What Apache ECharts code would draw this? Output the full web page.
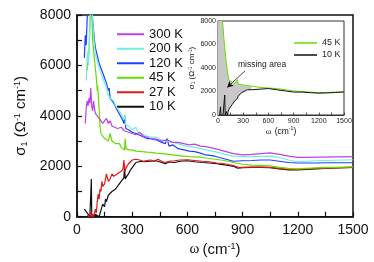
<!DOCTYPE html>
<html><head><meta charset="utf-8">
<script src="https://cdn.jsdelivr.net/npm/echarts@6/dist/echarts.min.js"></script>
<style>html,body{margin:0;padding:0;background:#fff}#c{width:374px;height:262px}</style>
</head><body><div id="c"></div>
<script>
// ---- main panel data: wavenumber (cm^-1) and sigma_1 (Ohm^-1 cm^-1)
const w300 = [45,50,55,60,65,70,75,80,85,90,95,100,110,120,130,140,150,160,170,180,190,200,220,240,260,280,300,320,340,360,380,400,430,460,490,520,550,580,610,640,670,700,750,800,850,900,950,1000,1050,1100,1150,1200,1250,1300,1350,1400,1450,1500];
const s300 = [3700,4300,4600,4400,4700,4500,5100,4400,4200,4600,4300,4100,4000,3900,3800,3700,3800,3900,3700,3800,3600,3650,3500,3550,3400,3350,3300,3250,3350,3200,3150,3100,3080,3000,3050,2950,2950,2900,2850,2880,2800,2780,2700,2600,2500,2450,2470,2500,2530,2470,2400,2350,2350,2360,2360,2370,2370,2380];
const w200 = [50,55,60,63,67,72,80,90,100,110,120,130,140,150,160,170,180,190,200,210,220,240,255,260,265,280,300,320,330,350,380,400,430,460,490,520,550,580,610,640,670,700,750,800,850,900,950,1000,1050,1100,1150,1200,1250,1300,1350,1400,1450,1500];
const s200 = [5400,6300,6600,6000,7000,8500,8600,7200,6400,6200,5900,5700,5500,5300,5150,4800,4700,4700,4600,4400,4300,4050,3850,4050,3650,3600,3450,3550,3350,3300,3200,3170,3150,3050,3000,2950,2900,2820,2780,2750,2700,2650,2580,2480,2400,2380,2380,2390,2400,2350,2250,2180,2200,2220,2230,2240,2250,2260];
const w120 = [40,45,50,55,60,70,80,85,90,95,100,110,120,130,140,150,160,170,175,180,190,200,210,220,240,250,255,260,265,280,300,320,350,380,400,430,460,480,490,500,520,550,580,610,640,670,700,750,800,850,900,950,1000,1050,1100,1150,1200,1250,1300,1350,1400,1450,1500];
const s120 = [6300,7200,6800,7800,8600,9000,8300,7800,7400,7000,6700,6400,6100,5900,5700,5500,5300,5000,5100,4700,4600,4500,4350,4200,3950,3800,3700,4000,3500,3450,3350,3300,3200,3100,3100,3050,2950,2900,3100,2800,2850,2700,2650,2600,2580,2520,2450,2400,2300,2200,2220,2230,2250,2250,2200,2150,2130,2130,2130,2140,2140,2140,2140];
const w45 = [55,60,65,70,75,80,85,90,95,100,105,110,112,120,125,130,140,150,160,170,180,190,200,210,220,230,240,250,258,262,266,280,300,320,350,380,400,430,460,490,520,550,580,610,640,670,700,750,800,850,900,950,1000,1050,1100,1150,1200,1250,1300,1350,1400,1450,1500];
const s45 = [5800,6300,6500,7500,8500,8300,7000,6600,6200,5900,5500,5000,5200,4300,3600,3300,3200,3100,3150,3000,3300,3000,2950,2900,2850,2900,2750,2700,2650,3100,2700,2650,2650,2600,2580,2560,2550,2520,2500,2480,2450,2420,2400,2380,2370,2360,2330,2280,2230,2150,2080,2050,2040,2020,1960,1920,1900,1920,1940,1950,1960,1970,1980];
const w27 = [55,60,65,70,75,80,85,90,95,100,105,110,115,120,125,130,135,140,150,160,170,180,190,200,210,220,230,240,250,255,260,270,280,290,300,320,340,360,380,400,420,440,460,480,500,530,560,600,640,680,720,760,800,850,880,900,950,1000,1050,1100,1150,1200,1250,1300,1350,1400,1450,1500];
const s27 = [50,0,100,0,200,0,100,0,150,300,150,600,900,700,1100,1000,1400,1200,1300,1700,1400,1500,1700,1600,1550,1700,1650,1800,1900,2250,1800,2000,2100,2150,2250,2280,2250,2200,2230,2250,2200,2280,2200,2150,2200,2220,2250,2260,2230,2200,2180,2130,2100,2030,1950,1960,1970,1970,1960,1920,1880,1880,1900,1920,1930,1940,1950,1960];
const w10 = [40,50,60,70,75,78,80,85,90,100,110,120,130,140,150,155,160,170,180,190,200,210,220,230,240,250,255,258,262,270,280,290,300,310,320,330,350,370,400,430,460,480,500,530,560,600,640,680,720,760,800,850,870,900,950,1000,1050,1100,1150,1200,1250,1300,1350,1400,1450,1500];
const s10 = [300,200,100,0,0,1500,100,0,0,100,50,0,250,500,400,700,600,850,800,1000,1050,1100,1200,1300,1400,1450,1550,2000,1500,1600,1700,1850,1950,2050,2150,2200,2200,2180,2200,2220,2150,2100,2170,2150,2200,2220,2180,2150,2130,2100,2060,2000,1930,1950,1960,1960,1950,1900,1860,1860,1880,1900,1920,1940,1950,1960];

// ---- inset data
const iw45 = [50,60,70,80,90,100,110,120,130,150,170,200,230,240,270,300,350,400,500,600,700,800,900,1000,1100,1200,1300,1400,1500];
const is45 = [8200,7500,6500,5800,5000,4400,3800,3300,3000,2900,2800,2700,3000,2650,2600,2550,2500,2450,2350,2300,2250,2150,2050,2000,1950,1900,1920,1950,1980];
const iw10 = [20,30,35,60,75,80,85,100,110,130,150,170,200,230,240,260,280,300,350,400,500,600,700,800,900,1000,1100,1200,1300,1400,1500];
const is10 = [0,700,0,0,0,1700,0,300,0,500,700,900,1200,1400,1600,1700,1900,2000,2150,2150,2200,2250,2150,2050,1950,1950,1900,1860,1880,1920,1960];
// missing area: lower (10 K) and upper (45 K) bounds
const fillW  = [0,20,30,35,50,60,75,80,85,100,110,130,150,170,200,230,240,260,280,300,350,400];
const fillLo = [0,0,700,0,0,0,0,1700,0,300,0,500,700,900,1200,1400,1600,1700,1900,2000,2150,2150];
const fillHi = [8000,8000,8000,8000,8000,7500,6200,5800,5400,4400,3800,3000,2900,2800,2700,3000,2650,2620,2600,2550,2500,2450];

const names = ['300 K','200 K','120 K','45 K','27 K','10 K'];
const colors = ['#c040e8','#70f0dc','#2040ff','#66dd00','#e01818','#111111'];
const xTicks = {min:0,max:1500,interval:300};
const yTicks = {min:0,max:8000,interval:2000};

const zip = (a,b)=>a.map((v,i)=>[v,b[i]]);
const F = 'Liberation Sans, Arial, sans-serif';
const plain = v => String(v);

function sigmaName(fs){
  return {
    formatter:'{a|σ}{sub|1}{a| (Ω}{sup|-1}{a| cm}{sup|-1}{a|)}',
    rich:{
      a:{fontSize:fs,fontFamily:F,color:'#111'},
      sub:{fontSize:fs*0.6,fontFamily:F,color:'#111',verticalAlign:'bottom',padding:[fs*0.45,0,0,0]},
      sup:{fontSize:fs*0.6,fontFamily:F,color:'#111',verticalAlign:'top',padding:[0,0,fs*0.45,0]}
    }
  };
}
function omegaName(fs){
  return {
    formatter:'{w|ω} {a|(cm}{sup|-1}{a|)}',
    rich:{
      w:{fontSize:fs,fontFamily:'Liberation Serif, serif',color:'#111'},
      a:{fontSize:fs,fontFamily:F,color:'#111'},
      sup:{fontSize:fs*0.6,fontFamily:F,color:'#111',verticalAlign:'top',padding:[0,0,fs*0.45,0]}
    }
  };
}

const mainSeries = [
  [w300,s300],[w200,s200],[w120,s120],[w45,s45],[w27,s27],[w10,s10]
].map((d,i)=>({
  name:names[i], type:'line', xAxisIndex:0, yAxisIndex:0, data:zip(d[0],d[1]),
  showSymbol:false, symbol:'none', z:10-i,
  lineStyle:{color:colors[i],width:1.2}, itemStyle:{color:colors[i]}, animation:false
}));

const yAx = sigmaName(15), xAx = omegaName(15);
const yAxI = sigmaName(8), xAxI = omegaName(8.5);

const option = {
  animation:false,
  backgroundColor:'#fff',
  grid:[
    {left:77,top:15,width:276,height:202,show:true,borderColor:'#111',borderWidth:1.5,backgroundColor:'transparent'},
    {left:218,top:21,width:126,height:94,show:true,borderColor:'#333',borderWidth:1,backgroundColor:'transparent'}
  ],
  xAxis:[
    {type:'value',gridIndex:0,...xTicks,name:xAx.formatter,nameLocation:'middle',nameGap:19,
     nameTextStyle:{rich:xAx.rich},
     axisLine:{lineStyle:{color:'#111',width:1.5}},
     axisTick:{inside:true,length:5,lineStyle:{color:'#111',width:1.2}},
     minorTick:{show:true,splitNumber:2,length:5,lineStyle:{color:'#111',width:1.2}},
     splitLine:{show:false},
     axisLabel:{fontSize:14,fontFamily:F,color:'#111',margin:6,formatter:plain}},
    {type:'value',gridIndex:1,...xTicks,name:xAxI.formatter,nameLocation:'middle',nameGap:11,
     nameTextStyle:{rich:xAxI.rich},
     axisLine:{lineStyle:{color:'#333',width:1}},
     axisTick:{inside:true,length:2.5,lineStyle:{color:'#333',width:0.8}},
     minorTick:{show:true,splitNumber:2,length:2.5,lineStyle:{color:'#333',width:0.8}},
     splitLine:{show:false},
     axisLabel:{fontSize:7,fontFamily:F,color:'#222',margin:3,formatter:plain}}
  ],
  yAxis:[
    {type:'value',gridIndex:0,...yTicks,name:yAx.formatter,nameLocation:'middle',nameGap:44,nameRotate:90,
     nameTextStyle:{rich:yAx.rich},
     axisLine:{lineStyle:{color:'#111',width:1.5}},
     axisTick:{inside:true,length:5,lineStyle:{color:'#111',width:1.2}},
     minorTick:{show:true,splitNumber:2,length:5,lineStyle:{color:'#111',width:1.2}},
     splitLine:{show:false},
     axisLabel:{fontSize:14,fontFamily:F,color:'#111',margin:6,formatter:plain}},
    {type:'value',gridIndex:1,...yTicks,name:yAxI.formatter,nameLocation:'middle',nameGap:20,nameRotate:90,
     nameTextStyle:{rich:yAxI.rich},
     axisLine:{lineStyle:{color:'#333',width:1}},
     axisTick:{inside:true,length:2.5,lineStyle:{color:'#333',width:0.8}},
     minorTick:{show:true,splitNumber:2,length:2.5,lineStyle:{color:'#333',width:0.8}},
     splitLine:{show:false},
     axisLabel:{fontSize:7,fontFamily:F,color:'#222',margin:2,formatter:plain}}
  ],
  legend:[
    {data:names.map(n=>({name:n,icon:'rect'})),orient:'vertical',left:112,top:22,itemWidth:27,itemHeight:2,itemGap:0,
     itemStyle:{borderWidth:0},
     textStyle:{fontSize:13,fontFamily:F,color:'#111',lineHeight:14.5},selectedMode:false},
    {data:['45 K','10 K'].map(n=>({name:n,icon:'rect'})),orient:'vertical',left:289,top:32,itemWidth:23,itemHeight:1.5,itemGap:0,
     itemStyle:{borderWidth:0},
     textStyle:{fontSize:9,fontFamily:F,color:'#222',lineHeight:12},selectedMode:false}
  ],
  series:[
    ...mainSeries,
    {name:'missing',type:'custom',xAxisIndex:1,yAxisIndex:1,data:[[0,0]],silent:true,z:1,clip:true,
     renderItem:function(params,api){
       const pts=[];
       for(let i=0;i<fillW.length;i++) pts.push(api.coord([fillW[i],fillHi[i]]));
       for(let i=fillW.length-1;i>=0;i--) pts.push(api.coord([fillW[i],fillLo[i]]));
       return {type:'polygon',shape:{points:pts},style:{fill:'#c8c8c8',stroke:null}};
     }},
    {name:'45 K',type:'line',xAxisIndex:1,yAxisIndex:1,data:zip(iw45,is45),showSymbol:false,symbol:'none',
     lineStyle:{color:colors[3],width:1},itemStyle:{color:colors[3]},z:5},
    {name:'10 K',type:'line',xAxisIndex:1,yAxisIndex:1,data:zip(iw10,is10),showSymbol:false,symbol:'none',
     lineStyle:{color:'#111',width:1},itemStyle:{color:'#111'},z:6,
     markLine:{silent:true,symbol:['none','arrow'],symbolSize:[5,6],
       lineStyle:{color:'#111',width:0.8,type:'solid'},label:{show:false},
       data:[[{coord:[321,3750]},{coord:[110,2350]}]]}}
  ],
  graphic:[
    {type:'text',left:238,top:60,style:{text:'missing area',fontSize:8.5,fontFamily:F,fill:'#222'}}
  ]
};
const chart = echarts.init(document.getElementById('c'),null,{renderer:'canvas'});
chart.setOption(option);
</script></body></html>
